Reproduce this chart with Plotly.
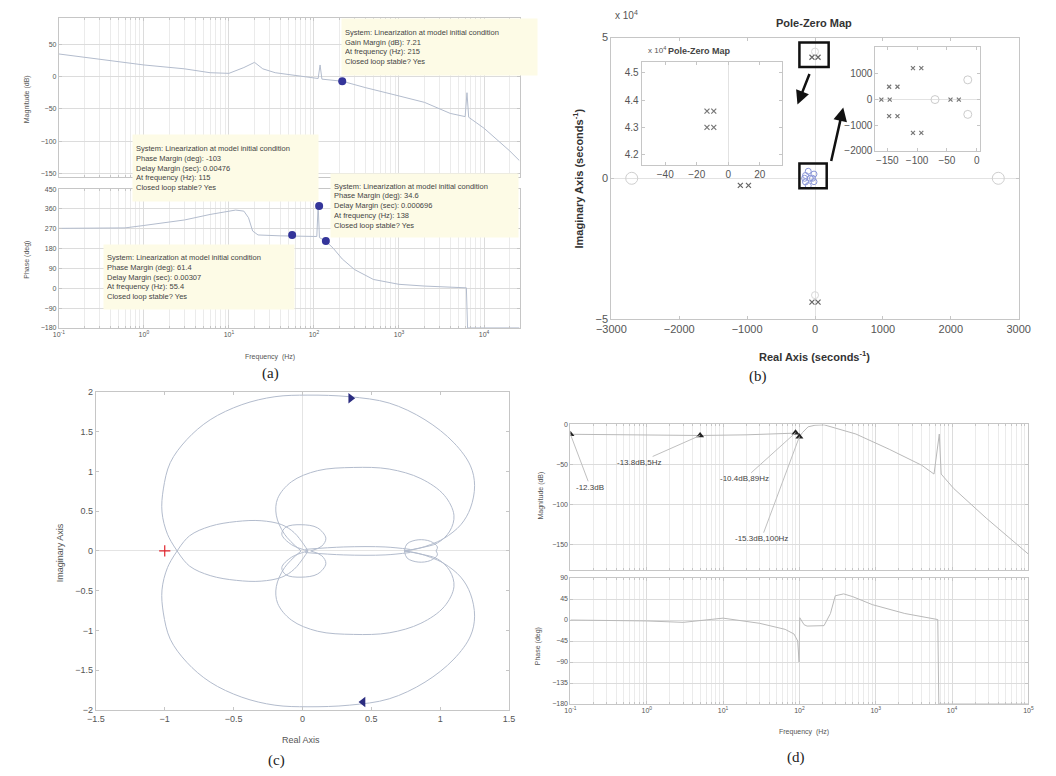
import math
import plotly.graph_objects as go

W, H = 1056, 776

# ---------------- Panel (a): Bode diagram with stability margins ----------------
a_mag_freq = [0.1, 0.3, 1, 3, 6, 10, 15, 20, 25, 35, 60, 100, 112, 118, 124, 215,
              400, 1000, 2000, 4000, 6000, 6300, 6600, 10000, 20000, 26000]
a_mag_db = [35, 27, 18, 12, 6, 5, 14, 22, 12, 6, 2, -2, -3, 18, -4, -7.2,
            -17, -30, -40, -57, -62, -25, -63, -80, -115, -130]
a_phase_freq = [0.1, 0.3, 0.6, 1, 3, 6, 10, 12, 15, 17, 19, 22, 40, 80, 108, 112, 116,
                138, 170, 215, 300, 500, 1000, 2000, 5000, 6200, 6400, 26000]
a_phase_deg = [272, 272, 274, 285, 310, 335, 352, 355, 350, 320, 260, 242, 238, 236, 235, 378, 230,
               214, 180, 133, 85, 40, 18, 10, 4, 2, -180, -180]
a_gm_freq = [215]
a_gm_db = [-7.21]
a_pm_freq = [55.4, 115, 138]
a_pm_deg = [241.4, 373, 214.6]
a_box_texts = [
    "System: Linearization at model initial condition<br>Gain Margin (dB): 7.21<br>At frequency (Hz): 215<br>Closed loop stable? Yes",
    "System: Linearization at model initial condition<br>Phase Margin (deg): -103<br>Delay Margin (sec): 0.00476<br>At frequency (Hz): 115<br>Closed loop stable? Yes",
    "System: Linearization at model initial condition<br>Phase Margin (deg): 34.6<br>Delay Margin (sec): 0.000696<br>At frequency (Hz): 138<br>Closed loop stable? Yes",
    "System: Linearization at model initial condition<br>Phase Margin (deg): 61.4<br>Delay Margin (sec): 0.00307<br>At frequency (Hz): 55.4<br>Closed loop stable? Yes",
]
a_mag_ticks = [-150, -100, -50, 0, 50]
a_phase_ticks = [-180, -90, 0, 90, 180, 270, 360, 450]
a_freq_ticks = [0.1, 1, 10, 100, 1000, 10000]
a_freq_labels = ["10<sup>-1</sup>", "10<sup>0</sup>", "10<sup>1</sup>", "10<sup>2</sup>", "10<sup>3</sup>", "10<sup>4</sup>"]

# ---------------- Panel (b): Pole-zero map ----------------
b_zero_re = [-2700, 2700]
b_zero_im = [0, 0]
b_pole_re = [-45, 45, -45, 45, -1100, -980]
b_pole_im = [4.3, 4.3, -4.4, -4.4, -0.25, -0.25]
b_faint_re = [0, 0]
b_faint_im = [4.5, -4.15]
b_cluster_re = [-100, -140, -153, -140, -100, -37, -70, -15, -15]
b_cluster_im = [0.25, 0.1, 0.0, -0.13, -0.26, 0.0, 0.0, 0.15, -0.12]
b_x_ticks = [-3000, -2000, -1000, 0, 1000, 2000, 3000]
b_y_ticks = [-5, 0, 5]
# inset 1 (units of 1e4 s^-1)
b1_pole_re = [-13.5, -9.2, -13.5, -9.2]
b1_pole_im = [4.36, 4.36, 4.30, 4.30]
b1_x_ticks = [-40, -20, 0, 20]
b1_y_ticks = [4.2, 4.3, 4.4, 4.5]
# inset 2 (s^-1)
b2_pole_re = [-107, -93, -147, -133, -160, -146, -147, -133, -107, -93, -44, -30]
b2_pole_im = [1230, 1230, 500, 500, 0, 0, -650, -650, -1300, -1300, 0, 0]
b2_zero_re = [-70, -15, -15]
b2_zero_im = [0, 770, -580]
b2_x_ticks = [-150, -100, -50, 0]
b2_y_ticks = [-2000, -1000, 0, 1000]

# ---------------- Panel (c): Nyquist diagram (upper half; lower half is its conjugate) ----------------
c_big_re = [-0.91, -0.98, -1.02, -1.01, -0.96, -0.84, -0.67, -0.44, -0.20, 0.04, 0.34, 0.63, 0.89,
            1.10, 1.22, 1.25, 1.22, 1.15, 1.03, 0.93, 0.84, 0.74]
c_big_im = [0.00, 0.21, 0.49, 0.78, 1.11, 1.40, 1.65, 1.84, 1.94, 1.96, 1.94, 1.86, 1.65,
            1.36, 1.07, 0.82, 0.54, 0.33, 0.16, 0.08, 0.03, 0.00]
c_left_re = [-0.91, -0.82, -0.67, -0.48, -0.30, -0.15, -0.06, 0.01, 0.04]
c_left_im = [0.00, 0.19, 0.31, 0.37, 0.38, 0.33, 0.23, 0.08, 0.00]
c_small_re = [0.04, -0.08, -0.15, -0.12, -0.01, 0.11, 0.17, 0.14, 0.06]
c_small_im = [0.00, 0.08, 0.21, 0.30, 0.33, 0.29, 0.16, 0.06, 0.00]
c_mid_re = [-0.01, -0.13, -0.19, -0.18, -0.08, 0.11, 0.37, 0.63, 0.86, 1.03, 1.10, 1.07, 0.98, 0.86, 0.74]
c_mid_im = [0.00, 0.21, 0.45, 0.66, 0.87, 1.01, 1.05, 1.03, 0.91, 0.70, 0.45, 0.25, 0.10, 0.04, 0.00]
c_axis_re = [0.02, 0.30, 0.60, 0.78]
c_axis_im = [0.02, 0.05, 0.05, 0.02]
c_rloop_re = [0.74, 0.76, 0.84, 0.93, 0.98, 0.97]
c_rloop_im = [0.00, 0.09, 0.14, 0.12, 0.05, 0.00]
c_arrow_re = [0.35, 0.44]
c_arrow_im = [1.92, -1.9]
c_x_ticks = [-1.5, -1, -0.5, 0, 0.5, 1, 1.5]
c_y_ticks = [-2, -1.5, -1, -0.5, 0, 0.5, 1, 1.5, 2]

# ---------------- Panel (d): Bode diagram ----------------
d_mag_freq = [0.1, 1, 5, 20, 50, 80, 89, 95, 100, 110, 130, 160, 210, 550, 1500, 4000, 5800,
              6800, 7200, 10500, 28000, 100000]
d_mag_db = [-12.3, -12.8, -13.8, -13, -12, -11, -10.4, -12, -15.3, -10, -3, -1, -0.5, -12, -31, -51, -62,
            -12, -62, -80, -117, -162]
d_phase_freq = [0.1, 1, 3, 10, 30, 65, 85, 95, 99, 101, 115, 126, 210, 255, 295, 380, 500, 900,
                2400, 6500, 6700, 100000]
d_phase_deg = [0, -2, -5, 4, -7, -20, -30, -45, -90, 5, -10, -13, -12, 14, 52, 56, 50, 33,
               14, 1, -180, -180]
d_tip_freq = [0.1, 5, 89, 100]
d_tip_db = [-12.3, -13.8, -10.4, -15.3]
d_tip_text = ["-12.3dB", "-13.8dB,5Hz", "-10.4dB,89Hz", "-15.3dB,100Hz"]
d_mag_ticks = [-150, -100, -50, 0]
d_phase_ticks = [-180, -135, -90, -45, 0, 45, 90]
d_freq_ticks = [0.1, 1, 10, 100, 1000, 10000, 100000]
d_freq_labels = ["10<sup>-1</sup>", "10<sup>0</sup>", "10<sup>1</sup>", "10<sup>2</sup>",
                 "10<sup>3</sup>", "10<sup>4</sup>", "10<sup>5</sup>"]

# ---------------- styling helpers ----------------
FONT = "Liberation Sans"
SERIF = "Liberation Serif"
LINE = "#c6c6c6"
GRID = "#dcdcdc"
MINOR = "#ebebeb"
TXT = "#555555"
CURVE = "#b3bccd"


def dx(a, b):
    return [a / W, b / W]


def dy(top, bottom):
    return [1 - bottom / H, 1 - top / H]


def axis(domain, rng, anchor, size=7, **kw):
    d = dict(domain=domain, range=rng, anchor=anchor, showline=True, linecolor=LINE, linewidth=1,
             mirror="ticks", ticks="inside", ticklen=3, tickcolor=LINE,
             tickfont=dict(family=FONT, size=size, color=TXT), showgrid=False, zeroline=False,
             fixedrange=True)
    d.update(kw)
    return d


def log_minor(lo, hi):
    vals = [m * 10.0 ** e for e in range(lo, hi) for m in range(2, 10)]
    return dict(tickmode="array", tickvals=vals, showgrid=True, gridcolor=MINOR, ticks="inside",
                ticklen=2, tickcolor=LINE)


fig = go.Figure()


def add(tr, n):
    tr.update(xaxis="x" if n == 1 else f"x{n}", yaxis="y" if n == 1 else f"y{n}",
              showlegend=False, hoverinfo="skip")
    fig.add_trace(tr)


# (a)
add(go.Scatter(x=a_mag_freq, y=a_mag_db, mode="lines", line=dict(color=CURVE, width=1)), 1)
add(go.Scatter(x=a_gm_freq, y=a_gm_db, mode="markers", marker=dict(color="#34359a", size=8)), 1)
add(go.Scatter(x=a_phase_freq, y=a_phase_deg, mode="lines", line=dict(color=CURVE, width=1)), 2)
add(go.Scatter(x=a_pm_freq, y=a_pm_deg, mode="markers", marker=dict(color="#34359a", size=8)), 2)

# (b)
add(go.Scatter(x=b_zero_re, y=b_zero_im, mode="markers",
               marker=dict(symbol="circle-open", color="#cfcfcf", size=12, line=dict(width=1))), 3)
add(go.Scatter(x=b_faint_re, y=b_faint_im, mode="markers",
               marker=dict(symbol="circle-open", color="#d8d8d8", size=7, line=dict(width=1))), 3)
add(go.Scatter(x=b_pole_re, y=b_pole_im, mode="markers",
               marker=dict(symbol="x-thin-open", color="#666", size=5, line=dict(width=1.2, color="#666"))), 3)
add(go.Scatter(x=b_cluster_re, y=b_cluster_im, mode="markers",
               marker=dict(symbol="circle-open", color="#8a96d8", size=6, line=dict(width=1))), 3)
add(go.Scatter(x=b1_pole_re, y=b1_pole_im, mode="markers",
               marker=dict(symbol="x-thin-open", color="#777", size=5, line=dict(width=1.2, color="#777"))), 4)
add(go.Scatter(x=b2_pole_re, y=b2_pole_im, mode="markers",
               marker=dict(symbol="x-thin-open", color="#777", size=4, line=dict(width=1.2, color="#777"))), 5)
add(go.Scatter(x=b2_zero_re, y=b2_zero_im, mode="markers",
               marker=dict(symbol="circle-open", color="#cccccc", size=8, line=dict(width=1))), 5)

# (c)
for re, im in [(c_big_re, c_big_im), (c_left_re, c_left_im), (c_small_re, c_small_im),
               (c_mid_re, c_mid_im), (c_axis_re, c_axis_im), (c_rloop_re, c_rloop_im)]:
    add(go.Scatter(x=re, y=im, mode="lines", line=dict(color=CURVE, width=1, shape="spline", smoothing=1)), 6)
    add(go.Scatter(x=re, y=[-v for v in im], mode="lines",
                   line=dict(color=CURVE, width=1, shape="spline", smoothing=1)), 6)
add(go.Scatter(x=c_arrow_re, y=c_arrow_im, mode="markers",
               marker=dict(symbol=["triangle-right", "triangle-left"], color="#2b2c80", size=9)), 6)
add(go.Scatter(x=[-1], y=[0], mode="markers",
               marker=dict(symbol="cross-thin-open", size=8, color="#e0242c",
                           line=dict(color="#e0242c", width=1.2))), 6)

# (d)
add(go.Scatter(x=d_mag_freq, y=d_mag_db, mode="lines", line=dict(color="#b9b9b9", width=1)), 7)
add(go.Scatter(x=d_tip_freq, y=d_tip_db, mode="markers",
               marker=dict(symbol="triangle-up", color="#222", size=7)), 7)
add(go.Scatter(x=d_phase_freq, y=d_phase_deg, mode="lines", line=dict(color="#b9b9b9", width=1)), 8)

# ---------------- axes ----------------
lay = {}
lay["xaxis"] = axis(dx(45, 518), [-1, 4.42], "y", type="log", tickvals=a_freq_ticks, ticktext=a_freq_labels,
                    showticklabels=False, showgrid=True, gridcolor=GRID, minor=log_minor(-1, 5))
lay["yaxis"] = axis(dy(12, 174), [-156, 91], "x", tickvals=a_mag_ticks, showgrid=True, gridcolor=GRID)
lay["xaxis2"] = axis(dx(45, 518), [-1, 4.42], "y2", type="log", tickvals=a_freq_ticks, ticktext=a_freq_labels,
                     showgrid=True, gridcolor=GRID, minor=log_minor(-1, 5))
lay["yaxis2"] = axis(dy(186, 327), [-180, 450], "x2", tickvals=a_phase_ticks, showgrid=True, gridcolor=GRID)

lay["xaxis3"] = axis(dx(612, 1030), [-3000, 3000], "y3", size=11, tickvals=b_x_ticks,
                     zeroline=True, zerolinecolor="#e2e2e2", zerolinewidth=1)
lay["yaxis3"] = axis(dy(32, 318), [-5, 5], "x3", size=11, tickvals=b_y_ticks,
                     zeroline=True, zerolinecolor="#e2e2e2", zerolinewidth=1)
lay["xaxis4"] = axis(dx(643, 787), [-55, 34], "y4", size=10, tickvals=b1_x_ticks,
                     zeroline=True, zerolinecolor="#e2e2e2", zerolinewidth=1)
lay["yaxis4"] = axis(dy(57, 162), [4.16, 4.54], "x4", size=10, tickvals=b1_y_ticks)
lay["xaxis5"] = axis(dx(883, 990), [-170, 5], "y5", size=10, tickvals=b2_x_ticks)
lay["yaxis5"] = axis(dy(42, 147), [-2000, 2040], "x5", size=10, tickvals=b2_y_ticks,
                     zeroline=True, zerolinecolor="#e2e2e2", zerolinewidth=1)

lay["xaxis6"] = axis(dx(83, 507), [-1.5, 1.5], "y6", size=9, tickvals=c_x_ticks,
                     zeroline=True, zerolinecolor="#e4e4e4", zerolinewidth=1)
lay["yaxis6"] = axis(dy(392, 715), [-2, 2], "x6", size=9, tickvals=c_y_ticks,
                     zeroline=True, zerolinecolor="#e4e4e4", zerolinewidth=1)

lay["xaxis7"] = axis(dx(570, 1040), [-1, 5], "y7", type="log", tickvals=d_freq_ticks, ticktext=d_freq_labels,
                     showticklabels=False, showgrid=True, gridcolor=GRID, minor=log_minor(-1, 5))
lay["yaxis7"] = axis(dy(425, 573), [-182, 0], "x7", tickvals=d_mag_ticks, showgrid=True, gridcolor=GRID)
lay["xaxis8"] = axis(dx(570, 1040), [-1, 5], "y8", type="log", tickvals=d_freq_ticks, ticktext=d_freq_labels,
                     showgrid=True, gridcolor=GRID, minor=log_minor(-1, 5))
lay["yaxis8"] = axis(dy(581, 709), [-180, 90], "x8", tickvals=d_phase_ticks, showgrid=True, gridcolor=GRID)

# ---------------- annotations ----------------
ann = []


def text(xp, yp, s, size=7, family=FONT, color=TXT, angle=0, xanchor="center", yanchor="middle"):
    ann.append(dict(x=xp / W, y=1 - yp / H, xref="paper", yref="paper", text=s, showarrow=False,
                    font=dict(family=family, size=size, color=color), textangle=angle,
                    xanchor=xanchor, yanchor=yanchor))


# (a) labels
text(12, 95, "Magnitude (dB)", angle=-90)
text(12, 258, "Phase (deg)", angle=-90)
text(262, 357, "Frequency  (Hz)")
text(262, 373, "(a)", size=15, family=SERIF, color="#222")

# (a) data-tip boxes
for (l, t, w, h), s in zip([(335, 12, 195, 56), (120, 130, 185, 66), (323, 170, 187, 63), (90, 242, 190, 64)],
                           a_box_texts):
    ann.append(dict(x=l / W, y=1 - t / H, xref="paper", yref="paper", text=s, showarrow=False,
                    xanchor="left", yanchor="top", align="left", valign="middle", width=w - 6, height=h - 6,
                    borderpad=3, bgcolor="#fdfbe6", font=dict(family=FONT, size=7.5, color="#444")))

# (b) labels
text(820, 17, "<b>Pole-Zero Map</b>", size=11, color="#333")
text(614, 9, "x 10<sup>4</sup>", size=10, xanchor="left")
text(578, 175, "<b>Imaginary Axis (seconds<sup>-1</sup>)</b>", size=11, color="#333", angle=-90)
text(820, 356, "<b>Real Axis (seconds<sup>-1</sup>)</b>", size=11, color="#333")
text(762, 376, "(b)", size=15, family=SERIF, color="#222")
text(702, 46, "<b>Pole-Zero Map</b>", size=9, color="#444")
text(648, 45, "x 10<sup>4</sup>", size=8, xanchor="left")

# (b) arrows
ann.append(dict(x=803 / W, y=1 - 100 / H, xref="paper", yref="paper", ax=15, ay=-38, showarrow=True,
                arrowhead=2, arrowsize=1.1, arrowwidth=2.5, arrowcolor="#111", text=" "))
ann.append(dict(x=850 / W, y=1 - 103 / H, xref="paper", yref="paper", ax=-14, ay=62, showarrow=True,
                arrowhead=2, arrowsize=1.1, arrowwidth=2.5, arrowcolor="#111", text=" "))

# (c) labels
text(47, 555, "Imaginary Axis", size=9, angle=-90)
text(293, 746, "Real Axis", size=9)
text(268, 766, "(c)", size=15, family=SERIF, color="#222")

# (d) labels
text(540, 497, "Magnitude (dB)", angle=-90)
text(537, 650, "Phase (deg)", angle=-90)
text(810, 737, "Frequency  (Hz)")
text(802, 763, "(d)", size=15, family=SERIF, color="#222")

# (d) data tips (annotation x on a log axis is given in log10 units)
for f, v, s, (ax_, ay_) in zip(d_tip_freq, d_tip_db, d_tip_text, [(20, 53), (-61, 27), (-51, 46), (-38, 102)]):
    ann.append(dict(x=math.log10(f), y=v, xref="x7", yref="y7", ax=ax_, ay=ay_,
                    text=s, showarrow=True, arrowhead=0, arrowwidth=1, arrowcolor="#c0c0c0",
                    font=dict(family=FONT, size=8, color="#444")))

shapes = [
    dict(type="rect", xref="paper", yref="paper", x0=805 / W, x1=835 / W, y0=1 - 62 / H, y1=1 - 37 / H,
         line=dict(color="#111", width=2.5)),
    dict(type="rect", xref="paper", yref="paper", x0=805 / W, x1=833 / W, y0=1 - 185 / H, y1=1 - 160 / H,
         line=dict(color="#111", width=2.5)),
]

fig.update_layout(width=W, height=H, margin=dict(l=0, r=0, t=0, b=0), paper_bgcolor="white",
                  plot_bgcolor="white", showlegend=False, hovermode=False, annotations=ann, shapes=shapes,
                  font=dict(family=FONT), **lay)

fig.write_html("out.html")
